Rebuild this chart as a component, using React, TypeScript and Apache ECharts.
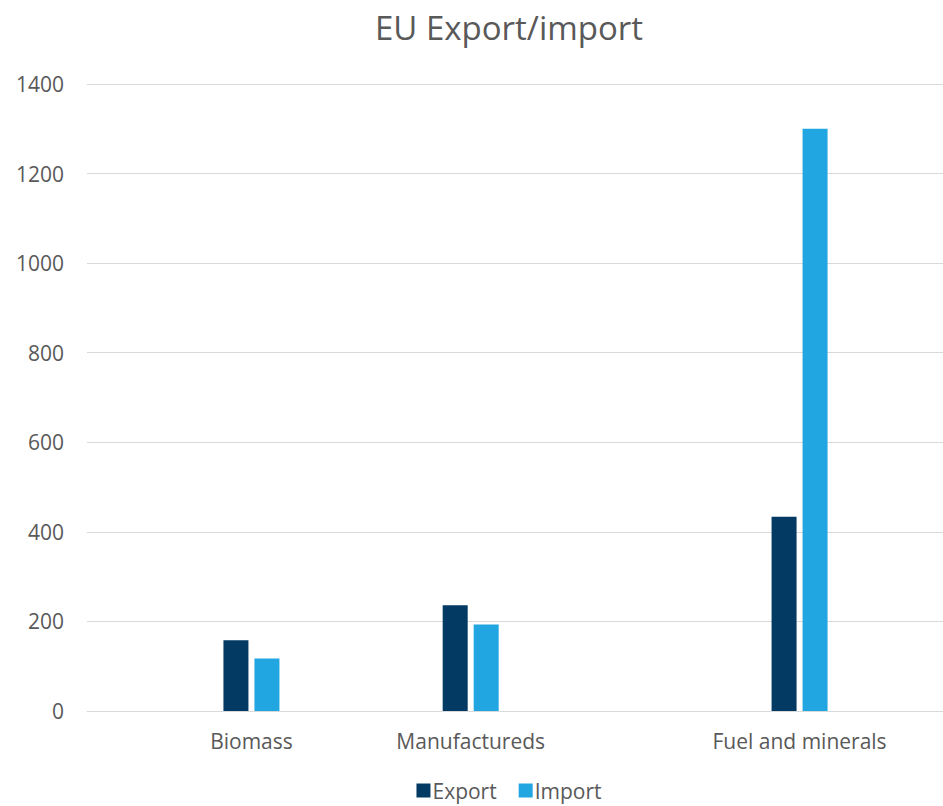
import React, { useEffect, useRef } from "react";
import * as echarts from "echarts";

const categories = ["", "Biomass", "", "Manufactureds", "", "", "Fuel and minerals", ""];
const exportValues = [null, 158, null, 236, null, null, 434, null];
const importValues = [null, 117, null, 193, null, null, 1300, null];
const yTicks = { min: 0, max: 1400, interval: 200 };

const FONT = "'Open Sans', 'Noto Sans', sans-serif";
const TEXT = "#595959";
const CHART_W = 1018;

export default function App() {
  const ref = useRef<HTMLDivElement>(null);
  useEffect(() => {
    if (!ref.current) return;
    const chart = echarts.init(ref.current, null, { renderer: "svg" });
    chart.setOption({
      animation: false,
      backgroundColor: "#ffffff",
      title: {
        text: "EU Export/import",
        left: "center",
        top: 6,
        textStyle: { fontFamily: FONT, fontSize: 33, fontWeight: "normal", color: TEXT },
      },
      legend: {
        top: 775,
        left: "center",
        itemWidth: 14,
        itemHeight: 14,
        itemGap: 22,
        icon: "rect",
        textStyle: { fontFamily: FONT, fontSize: 21, color: TEXT, padding: [0, 0, 0, -3] },
        data: ["Export", "Import"],
      },
      grid: { left: 87, right: CHART_W - 964, top: 84, bottom: 95, containLabel: false },
      xAxis: {
        type: "category",
        data: categories,
        axisLine: { lineStyle: { color: "#d9d9d9", width: 1 } },
        axisTick: { show: false },
        axisLabel: { fontFamily: FONT, fontSize: 21, color: TEXT, margin: 19, interval: 0 },
      },
      yAxis: {
        type: "value",
        min: yTicks.min,
        max: yTicks.max,
        interval: yTicks.interval,
        axisLine: { show: false },
        axisTick: { show: false },
        splitLine: { lineStyle: { color: "#d9d9d9", width: 1 } },
        axisLabel: {
          fontFamily: FONT,
          fontSize: 21,
          color: TEXT,
          margin: 23,
          formatter: (v: number) => String(v),
        },
      },
      series: [
        {
          name: "Export",
          type: "bar",
          data: exportValues,
          barWidth: 25,
          barGap: "24%",
          itemStyle: { color: "#023a64" },
        },
        {
          name: "Import",
          type: "bar",
          data: importValues,
          barWidth: 25,
          itemStyle: { color: "#21a6e2" },
        },
      ],
    });
    return () => chart.dispose();
  }, []);
  return (
    <div style={{ position: "absolute", left: 0, top: 0, width: 943, height: 806, overflow: "hidden", background: "#fff" }}>
      <div ref={ref} style={{ width: CHART_W, height: 806 }} />
    </div>
  );
}
